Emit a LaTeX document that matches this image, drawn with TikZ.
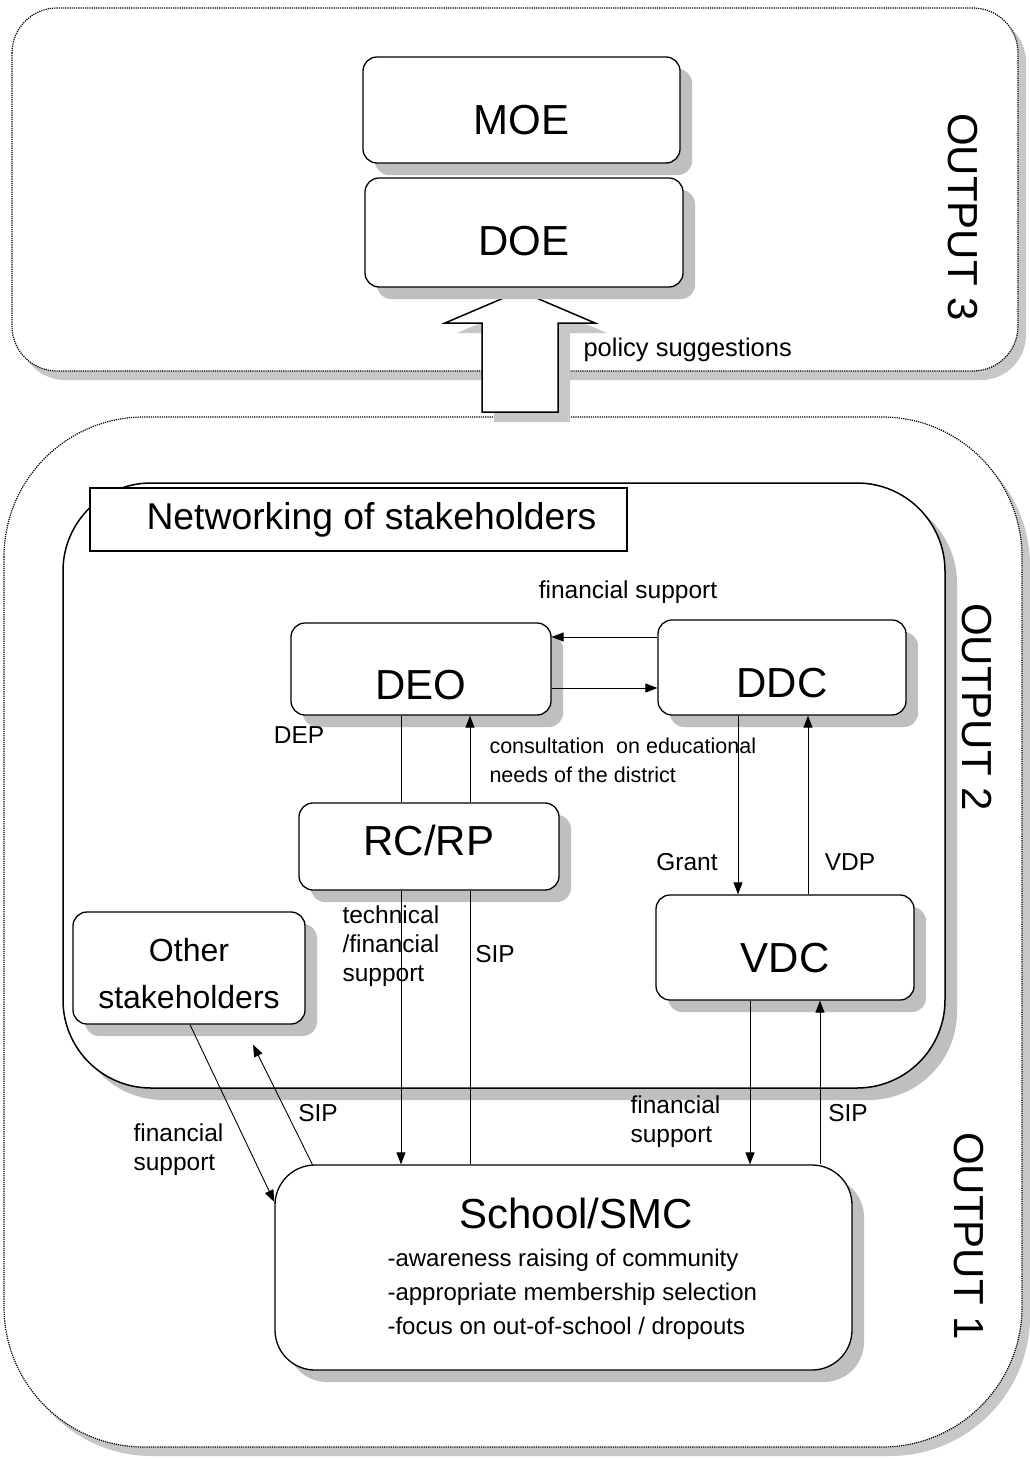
\documentclass[tikz,border=0pt]{standalone}
\usepackage{fontspec}
\setmainfont{Liberation Sans}
\usetikzlibrary{arrows.meta,shadows,calc}
\begin{document}
\begin{tikzpicture}[x=1pt,y=-1pt,
  shad/.style={drop shadow={shadow xshift=12pt,shadow yshift=-12pt,fill=black!25,opacity=1}},
  shadsmall/.style={drop shadow={shadow xshift=8pt,shadow yshift=-9pt,fill=black!22,opacity=1}},
  box/.style={draw,line width=1.3pt,fill=white,rounded corners=14pt,shad},
  bigtxt/.style={font=\fontsize{42}{50}\selectfont},
  outtxt/.style={font=\fontsize{42}{50}\selectfont,rotate=-90},
  lbl/.style={font=\fontsize{24.5}{29}\selectfont},
  arr/.style={-{Triangle[length=12pt,width=9pt]},line width=0.9pt},
  ln/.style={line width=0.9pt},
  outerbox/.style={draw,densely dotted,line width=1.2pt,fill=white,shadsmall}
]
\useasboundingbox (0,0) rectangle (1030,1459);

% outer frames
\draw[outerbox,rounded corners=45pt] (12,8) rectangle (1018,371);
\draw[outerbox,rounded corners=140pt] (4,417) rectangle (1022,1447);

% hollow arrow: policy suggestions
\draw[line width=1.5pt,fill=white,drop shadow={shadow xshift=12pt,shadow yshift=-10pt,fill=black!22,opacity=1}]
  (482,412) -- (482,323) -- (445,323) -- (520,291) -- (595,323) -- (558,323) -- (558,412) -- cycle;

% networking frame
\draw[line width=1.5pt,fill=white,rounded corners=88pt,shad] (63,483) rectangle (945,1088);
\node[draw,line width=1.2pt,fill=white,minimum width=537pt,minimum height=63pt,
  font=\fontsize{37.3}{44}\selectfont] (netlbl) at (358.5,519.5) {\hspace*{26pt}Networking of stakeholders};

% main nodes
\node[box,bigtxt,minimum width=317pt,minimum height=106pt,text height=48pt,text depth=0pt] (moe) at (521.5,110) {MOE};
\node[box,bigtxt,minimum width=318pt,minimum height=109pt,text height=46pt,text depth=0pt] (doe) at (524,232.5) {DOE};
\node[box,bigtxt,minimum width=260pt,minimum height=92pt,text height=61pt,text depth=0pt] (deo) at (421,669) {DEO};
\node[box,bigtxt,minimum width=248pt,minimum height=95pt,text height=60pt,text depth=0pt] (ddc) at (782,667.5) {DDC};
\node[box,bigtxt,minimum width=260pt,minimum height=87pt,text height=17pt,text depth=0pt] (rcrp) at (429,846.5) {RC/RP};
\node[box,bigtxt,minimum width=258pt,minimum height=105pt,text height=50pt,text depth=0pt] (vdc) at (785,947.5) {VDC};
\node[box,minimum width=232pt,minimum height=112pt,align=center,
  font=\fontsize{32}{47}\selectfont] (other) at (189,968) {\rule{0pt}{35pt}Other\\stakeholders};
\node[box,rounded corners=40pt,minimum width=577pt,minimum height=205pt] (school) at (563.5,1267.5) {};
\node[bigtxt] (schooltitle) at (576,1213) {School/SMC};
\node[font=\fontsize{24}{34}\selectfont,align=left,anchor=west] (schoolitems) at (384,1294)
  {-awareness raising of community\\-appropriate membership selection\\-focus on out-of-school / dropouts};

% OUTPUT labels
\node[outtxt] (out3) at (963,217) {OUTPUT 3};
\node[outtxt] (out2) at (977,707) {OUTPUT 2};
\node[outtxt] (out1) at (969,1236) {OUTPUT 1};

% helper coordinates
\coordinate (yA) at (0,637);
\coordinate (yB) at (0,688);
\coordinate (xA) at (401,0);
\coordinate (xB) at (470,0);
\coordinate (xC) at (738,0);
\coordinate (xD) at (808,0);
\coordinate (xE) at (750,0);
\coordinate (xF) at (820,0);
\coordinate (yS) at (0,1202);

% DEO <-> DDC
\draw[arr] (ddc.west |- yA) -- (deo.east |- yA);
\draw[arr] (deo.east |- yB) -- (ddc.west |- yB);
% DEO <-> RC/RP
\draw[ln] (deo.south -| xA) -- (rcrp.north -| xA);
\draw[arr] (rcrp.north -| xB) -- (deo.south -| xB);
% RC/RP <-> School
\draw[arr] (rcrp.south -| xA) -- (school.north -| xA);
\draw[ln] (school.north -| xB) -- (rcrp.south -| xB);
% DDC <-> VDC
\draw[arr] (ddc.south -| xC) -- (vdc.north -| xC);
\draw[arr] (vdc.north -| xD) -- (ddc.south -| xD);
% VDC <-> School
\draw[arr] (vdc.south -| xE) -- (school.north -| xE);
\draw[arr] (school.north -| xF) -- (vdc.south -| xF);
% Other <-> School
\draw[arr] ([xshift=1pt]other.south) -- (school.west |- yS);
\draw[arr] ([xshift=38pt]school.north west) -- ([xshift=64pt,yshift=-20pt]other.south);

% labels
\node[lbl] (lfs1) at (628,592) {financial support};
\node[lbl] (ldep) at (299,735) {DEP};
\node[font=\fontsize{21.5}{29}\selectfont,align=left,anchor=west] (lcons) at (486,760)
  {consultation\ \ on educational\\needs of the district};
\node[lbl,align=left,anchor=west] (ltech) at (339,946) {technical\\/financial\\support};
\node[lbl] (lsip1) at (495,954) {SIP};
\node[lbl] (lgrant) at (687,862) {Grant};
\node[lbl] (lvdp) at (850,862) {VDP};
\node[lbl,align=left,anchor=west] (lfs2) at (627,1122) {financial\\support};
\node[lbl] (lsip2) at (848,1113) {SIP};
\node[lbl] (lsip3) at (318,1113) {SIP};
\node[lbl,align=left,anchor=west] (lfs3) at (130,1150) {financial\\support};
\node[font=\fontsize{25.5}{30}\selectfont,anchor=west] (lpol) at (580,350) {policy suggestions};
\end{tikzpicture}
\end{document}
